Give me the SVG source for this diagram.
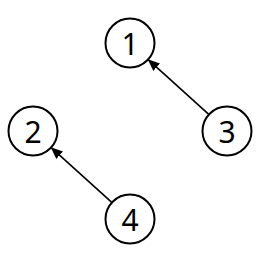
<svg xmlns="http://www.w3.org/2000/svg" width="267" height="256" viewBox="0 0 267 256">
<style>
.node circle{fill:#fff;stroke:#000;stroke-width:2}
.node text{font-family:"Noto Sans","Open Sans",sans-serif;font-size:30px;fill:#000;text-anchor:middle;dominant-baseline:central}
.edge{stroke:#000;stroke-width:1.6;fill:none;marker-end:url(#arr)}
</style>
<defs>
<marker id="arr" markerWidth="12" markerHeight="10" refX="11" refY="5" orient="auto" markerUnits="userSpaceOnUse">
<path d="M0,0 L12,5 L0,10 Z" fill="#000"/>
</marker>
</defs>
<g id="connectors">
<line class="edge" x1="208.5" y1="114.2" x2="148.5" y2="59.8"/>
<line class="edge" x1="111.5" y1="202.2" x2="51.5" y2="147.8"/>
</g>
<g id="node1" class="node"><circle cx="130" cy="43" r="24.5"/><text x="130" y="43">1</text></g>
<g id="node2" class="node"><circle cx="33" cy="131" r="24.5"/><text x="33" y="131">2</text></g>
<g id="node3" class="node"><circle cx="227" cy="131" r="24.5"/><text x="227" y="131">3</text></g>
<g id="node4" class="node"><circle cx="130" cy="219" r="24.5"/><text x="130" y="219">4</text></g>
</svg>
